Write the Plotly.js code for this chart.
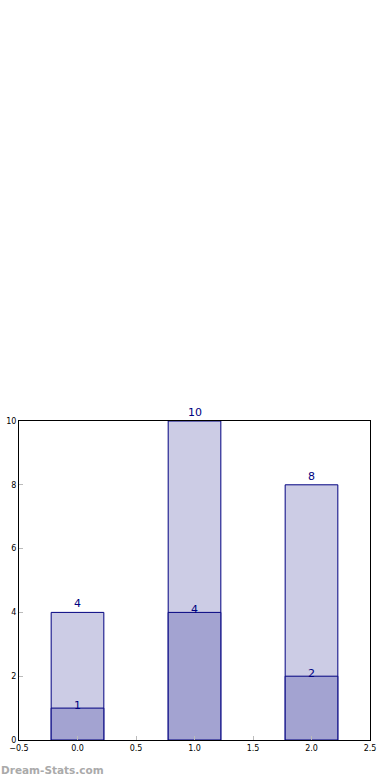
<!DOCTYPE html>
<html><head><meta charset="utf-8">
<script src="https://cdn.plot.ly/plotly-3.0.1.min.js"></script>
<style>html,body{margin:0;padding:0;background:#fff}#chart{width:390px;height:780px}</style>
</head><body><div id="chart"></div>
<script>
const positions = [0, 1, 2];
const totalValues = [4, 10, 8];
const partValues = [1, 4, 2];
const yTicks = [0, 2, 4, 6, 8, 10];
const xTicks = [-0.5, 0.0, 0.5, 1.0, 1.5, 2.0, 2.5];
const xTickLabels = ["\u22120.5", "0.0", "0.5", "1.0", "1.5", "2.0", "2.5"];

const traces = [
  {type: 'bar', x: positions, y: totalValues, width: 0.45, hoverinfo: 'none',
    marker: {color: '#ccccE5', line: {color: '#000080', width: 1}}},
  {type: 'bar', x: positions, y: partValues, width: 0.45, hoverinfo: 'none',
    marker: {color: '#a3a3d1', line: {color: '#000080', width: 1}}}
];
const labelFont = {family: 'DejaVu Sans', size: 11, color: '#000080'};
const annotations = [];
positions.forEach((p, i) => {
  annotations.push({x: p, y: totalValues[i], xref: 'x', yref: 'y', text: String(totalValues[i]),
    showarrow: false, xanchor: 'center', yanchor: 'bottom', yshift: 0, font: labelFont});
  annotations.push({x: p, y: partValues[i], xref: 'x', yref: 'y', text: String(partValues[i]),
    showarrow: false, xanchor: 'center', yanchor: 'bottom', yshift: -6, font: labelFont});
});
annotations.push({
  xref: 'paper', yref: 'paper', x: 0, y: 0, xanchor: 'left', yanchor: 'middle',
  xshift: -20, yshift: -30,
  text: '<b>Dream-Stats.com</b>', showarrow: false,
  font: {family: 'DejaVu Sans', size: 10.5, color: '#aaa'}
});
const axisCommon = {
  showline: true, linecolor: '#000', linewidth: 1, mirror: true,
  ticks: 'inside', ticklen: 4, tickcolor: '#bbb', showgrid: false, zeroline: false,
  tickfont: {family: 'DejaVu Sans', size: 8, color: '#000'}
};
const layout = {
  width: 390, height: 780, showlegend: false, barmode: 'overlay',
  paper_bgcolor: '#fff', plot_bgcolor: '#fff',
  margin: {l: 19, r: 20, t: 421, b: 40},
  xaxis: Object.assign({}, axisCommon, {range: [-0.5, 2.5], tickvals: xTicks, ticktext: xTickLabels}),
  yaxis: Object.assign({}, axisCommon, {range: [0, 10], tickvals: yTicks, ticktext: yTicks.map(String)}),
  annotations: annotations
};
Plotly.newPlot('chart', traces, layout, {displayModeBar: false, staticPlot: true});
</script></body></html>
